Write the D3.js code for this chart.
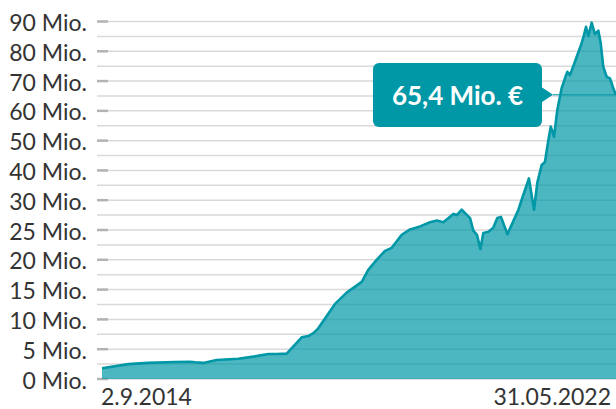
<!DOCTYPE html>
<html>
<head>
  <meta charset="utf-8">
  <title>Mio. € Verlauf</title>
  <script src="https://d3js.org/d3.v7.min.js"></script>
  <style>
    body { margin: 0; background: #fff; }
    svg { display: block; font-family: Lato, "Noto Sans", sans-serif; }
    .grid { stroke: #d9d9d9; stroke-width: 1.5px; }
    .tick-mark { stroke: #b3b3b3; stroke-width: 2.5px; }
    .ylabel, .xlabel { font-size: 23px; fill: #333; }
    .area { fill: #0097a7; fill-opacity: 0.7; }
    .line { fill: none; stroke: #0097a7; stroke-width: 2.6px; stroke-linejoin: round; }
    .callout { fill: #0097a7; }
    .callout-text { font-size: 26px; font-weight: bold; fill: #fff; }
  </style>
</head>
<body>
<script>
  // Values (Mio. €)
  const dates = [
    "2014-09-02", "2015-01-25", "2015-05-14", "2015-10-08", "2015-12-30", "2016-01-27",
    "2016-03-12", "2016-05-25", "2016-09-21", "2016-12-22", "2017-03-05", "2017-04-20",
    "2017-06-14", "2017-09-05", "2017-10-11", "2017-11-08", "2017-12-05", "2018-03-07",
    "2018-05-10", "2018-08-01", "2018-09-06", "2018-10-22", "2018-12-07", "2019-01-13",
    "2019-03-09", "2019-04-24", "2019-06-18", "2019-08-12", "2019-09-18", "2019-10-24",
    "2019-12-18", "2020-01-06", "2020-02-02", "2020-03-19", "2020-04-06", "2020-04-26",
    "2020-05-15", "2020-05-31", "2020-06-28", "2020-07-25", "2020-08-16", "2020-09-05",
    "2020-10-11", "2020-12-10", "2021-01-04", "2021-02-06", "2021-03-06", "2021-03-24",
    "2021-04-17", "2021-05-05", "2021-05-24", "2021-06-06", "2021-06-24", "2021-07-12",
    "2021-08-05", "2021-08-23", "2021-09-05", "2021-09-20", "2021-10-17", "2021-11-23",
    "2021-12-06", "2021-12-17", "2021-12-30", "2022-01-17", "2022-02-04", "2022-02-23",
    "2022-03-08", "2022-03-22", "2022-04-10", "2022-04-28", "2022-05-16", "2022-05-31"
  ];
  const values = [
    1.8, 2.5, 2.7, 2.85, 2.9, 2.8,
    2.7, 3.2, 3.4, 3.8, 4.2, 4.2,
    4.25, 7.0, 7.2, 7.7, 8.5, 12.6,
    14.5, 16.3, 18.3, 20.0, 21.5, 22.0,
    24.2, 25.1, 25.6, 26.3, 26.6, 26.3,
    27.7, 27.5, 28.4, 27.0, 24.9, 24.2,
    21.8, 24.5, 24.7, 25.4, 27.0, 27.2,
    24.3, 28.4, 31.4, 37.3, 28.4, 35.8,
    41.8, 42.8, 50.2, 54.7, 51.3, 60.3,
    67.6, 70.9, 73.1, 72.0, 76.5, 82.7,
    85.5, 88.2, 85.1, 89.6, 85.8, 86.9,
    82.7, 74.8, 71.4, 70.9, 67.6, 65.4
  ];
  const yTicks = [0, 5, 10, 15, 20, 25, 30, 40, 50, 60, 70, 80, 90];
  const xLabels = ["2.9.2014", "31.05.2022"];
  const calloutText = "65,4 Mio. €";

  const width = 616, height = 409;
  const parse = d3.timeParse("%Y-%m-%d");
  const data = dates.map((d, i) => ({ date: parse(d), value: values[i] }));

  const svg = d3.select("body").append("svg")
      .attr("width", width)
      .attr("height", height);

  const x = d3.scaleTime()
      .domain(d3.extent(data, d => d.date))
      .range([102, 616]);

  // the axis steps by 5 up to 30 and by 10 above
  const y = d3.scaleLinear()
      .domain([0, 30, 90])
      .range([379, 200.2, 21.5]);

  // gridlines at every tick and halfway between ticks
  const gridVals = yTicks.concat(d3.pairs(yTicks).map(([a, b]) => (a + b) / 2));

  svg.append("g").selectAll("line")
    .data(gridVals)
    .enter().append("line")
      .attr("class", "grid")
      .attr("x1", 97)
      .attr("x2", width)
      .attr("y1", d => y(d))
      .attr("y2", d => y(d));

  svg.append("g").selectAll("line")
    .data(yTicks)
    .enter().append("line")
      .attr("class", "tick-mark")
      .attr("x1", 97)
      .attr("x2", 108)
      .attr("y1", d => y(d))
      .attr("y2", d => y(d));

  svg.append("g").selectAll("text")
    .data(yTicks)
    .enter().append("text")
      .attr("class", "ylabel")
      .attr("x", 87)
      .attr("y", d => y(d) + 9.5)
      .attr("text-anchor", "end")
      .text(d => d + " Mio.");

  // area + line
  svg.append("path")
    .datum(data)
    .attr("class", "area")
    .attr("d", d3.area()
        .x(d => x(d.date))
        .y0(y(0))
        .y1(d => y(d.value)));

  svg.append("path")
    .datum(data)
    .attr("class", "line")
    .attr("d", d3.line()
        .x(d => x(d.date))
        .y(d => y(d.value)));

  // x labels
  const xDom = x.domain();
  svg.append("text")
    .attr("class", "xlabel")
    .attr("x", x(xDom[0]) - 1)
    .attr("y", 405)
    .text(xLabels[0]);
  svg.append("text")
    .attr("class", "xlabel")
    .attr("x", x(xDom[1]) - 5)
    .attr("y", 405)
    .attr("text-anchor", "end")
    .text(xLabels[1]);

  // callout pointing at the last value
  const last = data[data.length - 1];
  const ly = y(last.value);
  const box = { x: 373, y: 63, w: 169, h: 64 };
  const tipX = 553;

  svg.append("line")
    .attr("x1", tipX)
    .attr("x2", x(last.date))
    .attr("y1", ly)
    .attr("y2", ly)
    .attr("stroke", "#0097a7")
    .attr("stroke-width", 1.2);

  svg.append("rect")
    .attr("class", "callout")
    .attr("x", box.x)
    .attr("y", box.y)
    .attr("width", box.w)
    .attr("height", box.h)
    .attr("rx", 6);

  svg.append("path")
    .attr("class", "callout")
    .attr("d", `M${box.x + box.w - 1},${ly - 8}L${tipX},${ly}L${box.x + box.w - 1},${ly + 8}Z`);

  svg.append("text")
    .attr("class", "callout-text")
    .attr("x", box.x + box.w / 2)
    .attr("y", box.y + 42)
    .attr("text-anchor", "middle")
    .text(calloutText);
</script>
</body>
</html>
